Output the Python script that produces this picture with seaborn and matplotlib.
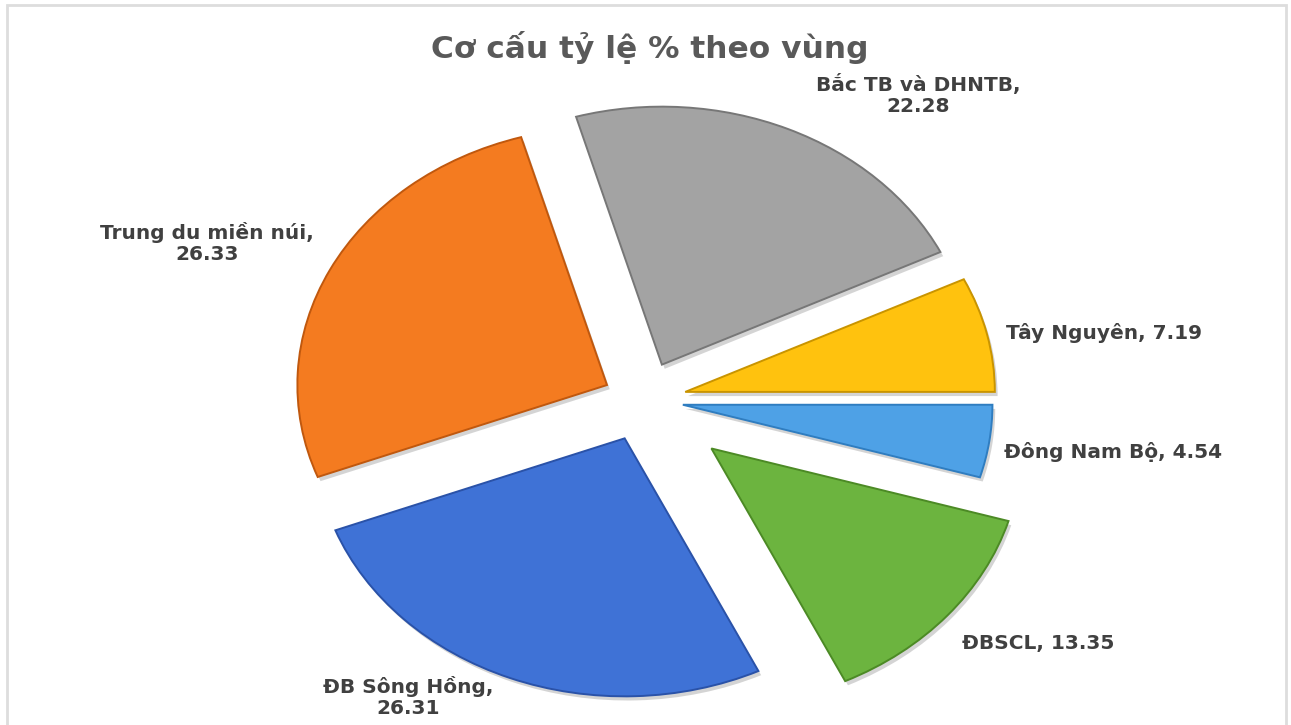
import numpy as np
import matplotlib
matplotlib.use("Agg")
import matplotlib.pyplot as plt
import matplotlib.patheffects as pe
from matplotlib.patches import Rectangle
import seaborn as sns

# ---- data ----
regions = ["ĐB Sông Hồng", "Trung du miền núi", "Bắc TB và DHNTB",
           "Tây Nguyên", "Đông Nam Bộ", "ĐBSCL"]
shares = [26.31, 26.33, 22.28, 7.19, 4.54, 13.35]
label_texts = ["ĐB Sông Hồng,\n26.31", "Trung du miền núi,\n26.33",
               "Bắc TB và DHNTB,\n22.28", "Tây Nguyên, 7.19",
               "Đông Nam Bộ, 4.54", "ĐBSCL, 13.35"]
title = "Cơ cấu tỷ lệ % theo vùng"

# ---- style ----
colors = ["#3F72D6", "#F47B20", "#A3A3A3", "#FFC20E", "#4EA1E6", "#6CB43F"]
edge_colors = ["#2A52A8", "#C0580E", "#777777", "#C99400", "#2F7DC0", "#4C8A25"]
explode = [0.16, 0.13, 0.15, 0.14, 0.13, 0.29]
# label anchor (pixel x, pixel y from top, horizontal alignment)
label_pos = [(408, 697, "center"), (207, 243, "center"), (918, 95, "center"),
             (1006, 333, "left"), (1004, 452, "left"), (962, 643, "left")]

W, H = 1291, 725
sns.set_theme(style="white")
plt.rcParams["font.family"] = ["DejaVu Sans"]

fig = plt.figure(figsize=(W / 100, H / 100), dpi=100)
fig.patch.set_facecolor("white")
ax = fig.add_axes([0, 0, 1, 1])

wedges, _ = ax.pie(shares, colors=colors, explode=explode, startangle=-64.4,
                   counterclock=False, radius=1.0,
                   wedgeprops=dict(linewidth=1.4))
for w, ec in zip(wedges, edge_colors):
    w.set_edgecolor(ec)
    w.set_path_effects([pe.SimplePatchShadow(offset=(2, -3), alpha=0.25,
                                              shadow_rgbFace="#555555"),
                        pe.Normal()])

# stretched (elliptical) pie like the reference
cx, cy = 643, 400
rpx = 258
sx = 1.2
ax.set_aspect("auto")
ax.set_xlim(-cx / (rpx * sx), (W - cx) / (rpx * sx))
ax.set_ylim(-(H - cy) / rpx, cy / rpx)
ax.axis("off")

for txt, (px, py, ha) in zip(label_texts, label_pos):
    fig.text(px / W, 1 - py / H, txt, ha=ha, va="center", fontsize=14.5,
             fontweight="bold", color="#404040", linespacing=1.15,
             multialignment="center")

fig.text(650 / W, 1 - 47 / H, title, ha="center", va="center",
         fontsize=22.5, fontweight="bold", color="#595959")

# light chart frame
frame = Rectangle((7 / W, -0.05), (1286 - 7) / W, (1 - 5 / H) + 0.05,
                  transform=fig.transFigure, fill=False,
                  edgecolor="#DDDDDD", linewidth=2.0)
fig.patches.append(frame)

fig.savefig("out.png", dpi=100, facecolor="white")
